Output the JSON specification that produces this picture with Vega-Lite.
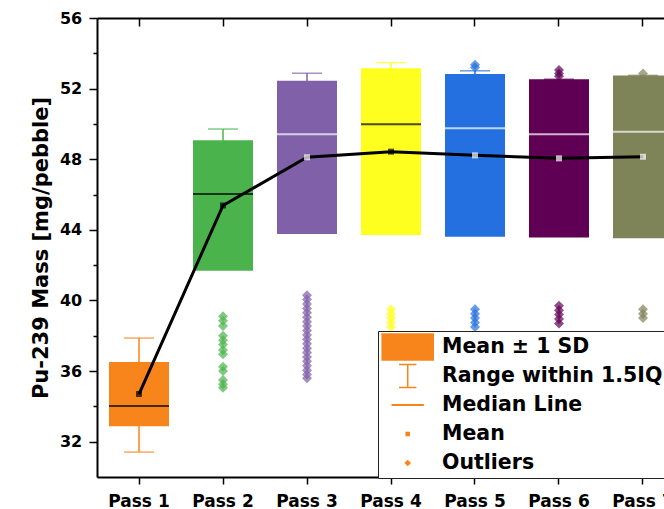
{
  "$schema": "https://vega.github.io/schema/vega-lite/v6.json",
  "autosize": {"type": "none"},
  "width": 567,
  "height": 459,
  "padding": {"left": 97, "top": 18, "right": 0, "bottom": 32},
  "background": "white",
  "config": {
    "view": {"stroke": null},
    "font": "DejaVu Sans"
  },
  "datasets": {
    "stats": [
      {"pass": "Pass 1", "mean": 34.70, "boxLow": 32.88, "boxHigh": 36.52, "median": 34.02, "whiskerLow": 31.41, "whiskerHigh": 37.87},
      {"pass": "Pass 2", "mean": 45.38, "boxLow": 41.68, "boxHigh": 49.07, "median": 46.03, "whiskerLow": 42.00, "whiskerHigh": 49.71},
      {"pass": "Pass 3", "mean": 48.11, "boxLow": 43.76, "boxHigh": 52.45, "median": 49.41, "whiskerLow": 44.00, "whiskerHigh": 52.87},
      {"pass": "Pass 4", "mean": 48.43, "boxLow": 43.71, "boxHigh": 53.15, "median": 49.98, "whiskerLow": 44.00, "whiskerHigh": 53.47},
      {"pass": "Pass 5", "mean": 48.22, "boxLow": 43.61, "boxHigh": 52.83, "median": 49.75, "whiskerLow": 43.90, "whiskerHigh": 53.01},
      {"pass": "Pass 6", "mean": 48.05, "boxLow": 43.57, "boxHigh": 52.53, "median": 49.41, "whiskerLow": 43.80, "whiskerHigh": 52.53},
      {"pass": "Pass 7", "mean": 48.14, "boxLow": 43.53, "boxHigh": 52.75, "median": 49.56, "whiskerLow": 43.80, "whiskerHigh": 52.75}
    ],
    "outliers": [
      {"pass": "Pass 2", "value": 39.10}, {"pass": "Pass 2", "value": 38.85}, {"pass": "Pass 2", "value": 38.55},
      {"pass": "Pass 2", "value": 38.00}, {"pass": "Pass 2", "value": 37.75}, {"pass": "Pass 2", "value": 37.50},
      {"pass": "Pass 2", "value": 37.20}, {"pass": "Pass 2", "value": 36.95}, {"pass": "Pass 2", "value": 36.25},
      {"pass": "Pass 2", "value": 36.00}, {"pass": "Pass 2", "value": 35.50}, {"pass": "Pass 2", "value": 35.25},
      {"pass": "Pass 2", "value": 35.05},
      {"pass": "Pass 3", "value": 40.30}, {"pass": "Pass 3", "value": 40.05}, {"pass": "Pass 3", "value": 39.80},
      {"pass": "Pass 3", "value": 39.55}, {"pass": "Pass 3", "value": 39.30}, {"pass": "Pass 3", "value": 39.05},
      {"pass": "Pass 3", "value": 38.80}, {"pass": "Pass 3", "value": 38.55}, {"pass": "Pass 3", "value": 38.30},
      {"pass": "Pass 3", "value": 38.05}, {"pass": "Pass 3", "value": 37.80}, {"pass": "Pass 3", "value": 37.55},
      {"pass": "Pass 3", "value": 37.30}, {"pass": "Pass 3", "value": 37.05}, {"pass": "Pass 3", "value": 36.80},
      {"pass": "Pass 3", "value": 36.55}, {"pass": "Pass 3", "value": 36.30}, {"pass": "Pass 3", "value": 36.05},
      {"pass": "Pass 3", "value": 35.80}, {"pass": "Pass 3", "value": 35.60},
      {"pass": "Pass 4", "value": 39.50}, {"pass": "Pass 4", "value": 39.25}, {"pass": "Pass 4", "value": 39.00},
      {"pass": "Pass 4", "value": 38.75}, {"pass": "Pass 4", "value": 38.50},
      {"pass": "Pass 5", "value": 39.50}, {"pass": "Pass 5", "value": 39.25}, {"pass": "Pass 5", "value": 39.00},
      {"pass": "Pass 5", "value": 38.75}, {"pass": "Pass 5", "value": 38.50}, {"pass": "Pass 5", "value": 53.20},
      {"pass": "Pass 5", "value": 53.35},
      {"pass": "Pass 6", "value": 39.70}, {"pass": "Pass 6", "value": 39.45}, {"pass": "Pass 6", "value": 39.20},
      {"pass": "Pass 6", "value": 38.95}, {"pass": "Pass 6", "value": 38.70}, {"pass": "Pass 6", "value": 52.70},
      {"pass": "Pass 6", "value": 52.85}, {"pass": "Pass 6", "value": 53.05},
      {"pass": "Pass 7", "value": 39.50}, {"pass": "Pass 7", "value": 39.25}, {"pass": "Pass 7", "value": 39.00},
      {"pass": "Pass 7", "value": 52.85}
    ],
    "legendItems": [
      {"item": "Mean ± 1 SD"},
      {"item": "Range within 1.5IQR"},
      {"item": "Median Line"},
      {"item": "Mean"},
      {"item": "Outliers"}
    ]
  },
  "resolve": {"axis": {"x": "independent", "y": "independent"}},
  "layer": [
    {
      "data": {"name": "stats"},
      "mark": {"type": "rule", "strokeWidth": 1.5},
      "encoding": {
        "x": {
          "field": "pass", "type": "nominal", "title": null,
          "scale": {
            "domain": ["Pass 1", "Pass 2", "Pass 3", "Pass 4", "Pass 5", "Pass 6", "Pass 7"],
            "range": [0, 588], "paddingInner": 0.2857, "paddingOuter": 0.1429
          },
          "axis": {
            "orient": "bottom", "labelAngle": 0, "labelFont": "DejaVu Sans", "labelFontSize": 17,
            "labelFontWeight": "bold", "labelColor": "black", "labelPadding": 9,
            "tickColor": "black", "tickSize": 7, "tickWidth": 1.5,
            "domainColor": "black", "domainWidth": 2
          }
        },
        "y": {
          "field": "whiskerLow", "type": "quantitative",
          "scale": {"domain": [30, 56], "nice": false, "zero": false},
          "axis": {
            "orient": "left",
            "title": "Pu-239 Mass [mg/pebble]", "titleFont": "DejaVu Sans", "titleFontSize": 21,
            "titleFontWeight": "bold", "titleColor": "black", "titlePadding": 8,
            "values": [32, 36, 40, 44, 48, 52, 56],
            "labelFont": "DejaVu Sans", "labelFontSize": 16, "labelFontWeight": "bold",
            "labelColor": "black", "labelPadding": 7.3,
            "tickColor": "black", "tickWidth": 1.5, "tickSize": 8,
            "domainColor": "black", "domainWidth": 2, "grid": false
          }
        },
        "y2": {"field": "whiskerHigh"},
        "color": {
          "field": "pass", "type": "nominal", "legend": null,
          "scale": {
            "domain": ["Pass 1", "Pass 2", "Pass 3", "Pass 4", "Pass 5", "Pass 6", "Pass 7"],
            "range": ["#f8851c", "#4bb34b", "#8060a8", "#ffff1f", "#2470e0", "#600055", "#7f8358"]
          }
        }
      }
    },
    {
      "data": {"name": "stats"},
      "mark": {"type": "tick", "size": 30, "thickness": 1.5},
      "encoding": {
        "x": {
          "field": "pass", "type": "nominal", "title": null,
          "axis": {
            "orient": "top", "offset": -8, "labels": false, "domain": false,
            "tickColor": "black", "tickSize": 8, "tickWidth": 1.5
          }
        },
        "y": {
          "field": "whiskerHigh", "type": "quantitative",
          "axis": {
            "orient": "left", "title": null, "labels": false, "domain": false, "grid": false,
            "values": [34, 38, 42, 46, 50, 54],
            "tickColor": "black", "tickWidth": 1.5, "tickSize": 4
          }
        },
        "color": {"field": "pass", "type": "nominal", "legend": null}
      }
    },
    {
      "data": {"name": "stats"},
      "mark": {"type": "tick", "size": 30, "thickness": 1.5},
      "encoding": {
        "x": {
          "field": "pass", "type": "nominal", "title": null,
          "axis": {"orient": "top", "labels": false, "ticks": false, "domain": true, "domainColor": "black", "domainWidth": 2}
        },
        "y": {"field": "whiskerLow", "type": "quantitative", "axis": null},
        "color": {"field": "pass", "type": "nominal", "legend": null}
      }
    },
    {
      "data": {"name": "outliers"},
      "mark": {"type": "point", "shape": "diamond", "filled": true, "size": 100},
      "encoding": {
        "x": {"field": "pass", "type": "nominal", "axis": null},
        "y": {"field": "value", "type": "quantitative", "axis": null},
        "color": {"field": "pass", "type": "nominal", "legend": null}
      }
    },
    {
      "data": {"name": "stats"},
      "mark": {"type": "bar"},
      "encoding": {
        "x": {"field": "pass", "type": "nominal", "axis": null},
        "y": {"field": "boxLow", "type": "quantitative", "axis": null},
        "y2": {"field": "boxHigh"},
        "color": {"field": "pass", "type": "nominal", "legend": null}
      }
    },
    {
      "data": {"name": "stats"},
      "mark": {"type": "tick", "size": 60, "thickness": 2},
      "encoding": {
        "x": {"field": "pass", "type": "nominal", "axis": null},
        "y": {"field": "median", "type": "quantitative", "axis": null},
        "color": {
          "condition": {"test": "indexof(['Pass 3', 'Pass 5', 'Pass 6', 'Pass 7'], datum.pass) >= 0", "value": "white"},
          "value": "black"
        }
      }
    },
    {
      "data": {"name": "stats"},
      "mark": {"type": "line", "color": "black", "strokeWidth": 3},
      "encoding": {
        "x": {"field": "pass", "type": "nominal", "axis": null},
        "y": {"field": "mean", "type": "quantitative", "axis": null}
      }
    },
    {
      "data": {"name": "stats"},
      "mark": {"type": "point", "shape": "square", "filled": true, "size": 36},
      "encoding": {
        "x": {"field": "pass", "type": "nominal", "axis": null},
        "y": {"field": "mean", "type": "quantitative", "axis": null},
        "color": {
          "condition": {"test": "indexof(['Pass 3', 'Pass 5', 'Pass 6', 'Pass 7'], datum.pass) >= 0", "value": "white"},
          "value": "black"
        }
      }
    },
    {
      "data": {"name": "legendItems"},
      "mark": {"type": "point", "filled": true, "color": "#f8851c", "opacity": 0},
      "encoding": {
        "shape": {
          "field": "item", "type": "nominal",
          "scale": {
            "domain": ["Mean ± 1 SD", "Range within 1.5IQR", "Median Line", "Mean", "Outliers"],
            "range": [
              "M-1.753,-0.91H1.753V0.91H-1.753Z",
              "M0,-0.91M-0.58,-0.82H0.58V-0.72H-0.58ZM-0.05,-0.72H0.05V0.72H-0.05ZM-0.58,0.72H0.58V0.82H-0.58ZM0,0.91",
              "M0,-0.91M-1.08,-0.067H1.08V0.067H-1.08ZM0,0.91",
              "M0,-0.91M-0.153,-0.153H0.153V0.153H-0.153ZM0,0.91",
              "M0,-0.91M0,-0.22L0.22,0L0,0.22L-0.22,0ZM0,0.91"
            ]
          },
          "legend": {
            "orient": "none", "legendX": 281, "legendY": 313, "title": null, "direction": "vertical",
            "padding": 1, "symbolOffset": 13.7, "labelOffset": 19.3, "rowPadding": 0,
            "symbolSize": 900, "symbolStrokeWidth": 0, "symbolFillColor": "#f8851c", "symbolOpacity": 1,
            "labelFont": "DejaVu Sans", "labelFontSize": 20.5, "labelFontWeight": "bold", "labelColor": "black",
            "labelLimit": 600, "strokeColor": "#222222", "fillColor": "white"
          }
        }
      }
    }
  ]
}
